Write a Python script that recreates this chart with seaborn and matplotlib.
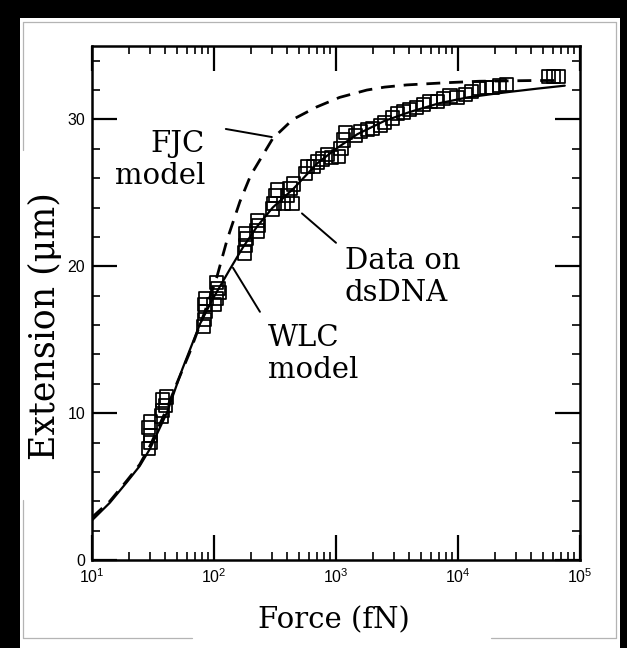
import numpy as np
import pandas as pd
import matplotlib
matplotlib.use("Agg")
import matplotlib.pyplot as plt
import seaborn as sns
from matplotlib.patches import Rectangle
from matplotlib.lines import Line2D
from matplotlib.ticker import FixedLocator, MultipleLocator, LogLocator, NullFormatter

# ---- measured extension vs. force on dsDNA (fN, um) ----
data_force = [29, 30, 30, 29, 30,
              37, 38, 40, 38, 41,
              82, 84, 85, 84, 86,
              100, 105, 110, 108, 105,
              178, 182, 185, 180,
              225, 232, 228,
              300, 310, 320, 330,
              370, 400, 420, 436, 450,
              560, 580,
              650, 700, 780, 850, 920,
              1050, 1100, 1150, 1200,
              1450, 1600, 1800, 2000,
              2300, 2500,
              2900, 3200, 3600, 4000,
              4600, 5200, 5900,
              6800, 7600, 8600, 9800,
              11500, 13000, 15000, 17000,
              19000, 22000, 25000,
              55000, 61000, 67000]
data_ext = [7.6, 8.0, 8.5, 9.0, 9.4,
            9.8, 10.2, 10.5, 10.9, 11.1,
            15.9, 16.4, 16.9, 17.4, 17.8,
            17.4, 17.8, 18.2, 18.5, 18.9,
            20.9, 21.4, 21.9, 22.2,
            22.4, 22.8, 23.1,
            23.9, 24.3, 24.8, 25.2,
            24.3, 24.8, 25.3, 24.3, 25.6,
            26.3, 26.8,
            26.8, 27.1, 27.3, 27.6, 27.4,
            27.5, 28.0, 28.6, 29.1,
            28.9, 29.2, 29.3, 29.4,
            29.6, 29.8,
            30.1, 30.4, 30.5, 30.7,
            30.8, 31.0, 31.2,
            31.2, 31.4, 31.6, 31.5,
            31.7, 31.9, 32.1, 32.2,
            32.2, 32.3, 32.4,
            32.9, 32.9, 32.9]

# ---- worm-like chain model curve ----
wlc_force = [10, 14, 19.3, 24.6, 30, 41, 55, 77, 98, 135, 173, 225, 303,
             450, 700, 1000, 1500, 2500, 4000, 7000, 12000, 20000, 28000,
             45000, 75000]
wlc_ext = [2.7, 3.9, 5.3, 6.4, 7.6, 10.0, 13.0, 16.1, 17.8, 19.8, 21.3, 22.7,
           24.0, 25.3, 27.0, 28.0, 29.0, 29.9, 30.5, 31.1, 31.5, 31.75, 31.9,
           32.1, 32.3]

# ---- freely-jointed chain model curve ----
fjc_force = [10, 14, 19.3, 24.6, 30, 41, 50, 63, 84, 105, 128, 163, 200,
             303, 443, 695, 1070, 1790, 2500, 3800, 8000, 15000, 42000, 70000]
fjc_ext = [2.9, 4.0, 5.4, 6.5, 7.8, 10.3, 12.1, 14.1, 16.9, 19.2, 21.8, 24.4,
           26.2, 28.7, 30.0, 30.85, 31.5, 32.0, 32.2, 32.35, 32.5, 32.6,
           32.65, 32.65]

x_ticks = [1e1, 1e2, 1e3, 1e4, 1e5]
x_ticklabels = [r"$10^{1}$", r"$10^{2}$", r"$10^{3}$", r"$10^{4}$", r"$10^{5}$"]
y_ticks = [0, 10, 20, 30]
y_ticklabels = ["0", "10", "20", "30"]

sns.set_theme(style="white")
plt.rcParams["font.family"] = ["DejaVu Serif"]
plt.rcParams["mathtext.fontset"] = "custom"
plt.rcParams["mathtext.rm"] = "Liberation Sans"
plt.rcParams["mathtext.it"] = "Liberation Sans"
plt.rcParams["mathtext.bf"] = "Liberation Sans"

W, H = 627, 648
fig = plt.figure(figsize=(W / 100, H / 100), dpi=100, facecolor="black")


def fx(px):
    return px / W


def fy(py):
    return 1 - py / H


# white page panel with a thin grey frame
fig.patches.append(Rectangle((fx(20), 0), fx(600), fy(18), transform=fig.transFigure,
                             facecolor="white", edgecolor="none", zorder=-5))
frame = "#b4b4b4"
for (x0, y0, x1, y1) in [(23, 22, 616, 22), (616, 22, 616, 638),
                         (23, 638, 192, 638), (491, 638, 616, 638),
                         (23, 22, 23, 150), (23, 500, 23, 638)]:
    fig.add_artist(Line2D([fx(x0), fx(x1)], [fy(y0), fy(y1)], transform=fig.transFigure,
                          color=frame, lw=0.9, zorder=-4))

ax = fig.add_axes([fx(92), fy(560), (580 - 92) / W, (560 - 46) / H])
ax.set_zorder(2)
ax.set_facecolor("white")

wlc = pd.DataFrame({"force": wlc_force, "ext": wlc_ext})
fjc = pd.DataFrame({"force": fjc_force, "ext": fjc_ext})
pts = pd.DataFrame({"force": data_force, "ext": data_ext})

sns.lineplot(data=wlc, x="force", y="ext", ax=ax, color="black", lw=1.6,
             sort=False, zorder=3)
sns.lineplot(data=fjc, x="force", y="ext", ax=ax, color="black", lw=2.0,
             sort=False, zorder=3)
ax.lines[-1].set_dashes([5, 3.2])
sns.scatterplot(data=pts, x="force", y="ext", ax=ax, marker="s", s=90,
                facecolor="none", edgecolor="black", linewidth=1.25, zorder=4)

ax.set_xscale("log")
ax.set_xlim(1e1, 1e5)
ax.set_ylim(0, 35)
ax.xaxis.set_major_locator(FixedLocator(x_ticks))
ax.set_xticklabels(x_ticklabels)
ax.xaxis.set_minor_locator(LogLocator(base=10, subs=np.arange(2, 10)))
ax.xaxis.set_minor_formatter(NullFormatter())
ax.yaxis.set_major_locator(FixedLocator(y_ticks))
ax.set_yticklabels(y_ticklabels)
ax.yaxis.set_minor_locator(MultipleLocator(2))

ax.tick_params(which="major", direction="in", length=18, width=1.6,
               top=True, right=True, bottom=True, left=True,
               labelsize=11.5, pad=5, colors="black")
ax.tick_params(which="minor", direction="in", length=6, width=1.4,
               top=True, right=True, bottom=True, left=True)
for lab in ax.get_yticklabels() + ax.get_xticklabels():
    lab.set_family("Liberation Sans")
for sp in ax.spines.values():
    sp.set_linewidth(1.8)
    sp.set_color("black")
    sp.set_visible(True)

ax.set_xlabel("")
ax.set_ylabel("")
fig.text(fx(334), fy(620), "Force (fN)", ha="center", va="center", fontsize=21,
         family="DejaVu Serif", color="black")
fig.text(fx(45), fy(326), "Extension (\u03bcm)", ha="center", va="center",
         rotation=90, fontsize=25, family="DejaVu Serif", color="black")

# annotations with leader lines
lbl = dict(fontsize=21, family="DejaVu Serif", color="black", linespacing=1.2)
ax.text((205 - 92) / 488, (560 - 160) / 514, "FJC\nmodel", transform=ax.transAxes,
        ha="right", va="center", multialignment="right", **lbl)
ax.text((345 - 92) / 488, (560 - 277) / 514, "Data on\ndsDNA", transform=ax.transAxes,
        ha="left", va="center", multialignment="left", **lbl)
ax.text((268 - 92) / 488, (560 - 354) / 514, "WLC\nmodel", transform=ax.transAxes,
        ha="left", va="center", multialignment="left", **lbl)
leader = dict(arrowstyle="-", lw=1.4, color="black", shrinkA=0, shrinkB=0)
ax.annotate("", xy=(298, 28.8), xytext=(125, 29.35), arrowprops=leader)
ax.annotate("", xy=(526, 23.6), xytext=(1000, 21.6), arrowprops=leader)
ax.annotate("", xy=(143, 19.9), xytext=(238, 16.9), arrowprops=leader)

fig.savefig("out.png", dpi=100, facecolor=fig.get_facecolor())
